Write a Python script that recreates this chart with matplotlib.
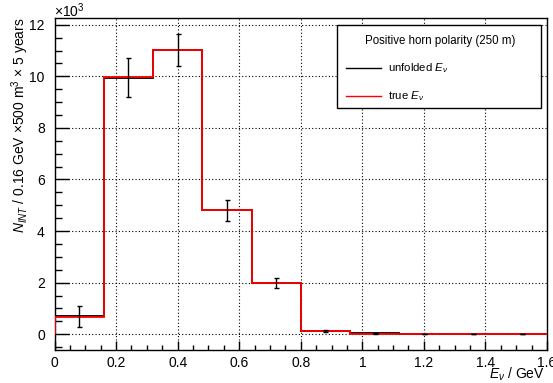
import numpy as np
import matplotlib
matplotlib.use("Agg")
import matplotlib.pyplot as plt
from matplotlib.ticker import MultipleLocator, FuncFormatter
from matplotlib.patches import Rectangle
from matplotlib.lines import Line2D

plt.rcParams['font.family'] = ['Liberation Sans', 'DejaVu Sans']
plt.rcParams['mathtext.fontset'] = 'custom'
plt.rcParams['mathtext.it'] = 'Liberation Sans:italic'
plt.rcParams['mathtext.rm'] = 'Liberation Sans'

# Data (units of 10^3)
bin_edges = [0.0, 0.16, 0.32, 0.48, 0.64, 0.80, 0.96, 1.12, 1.28, 1.44, 1.60]
true_vals = [0.68, 9.97, 11.02, 4.81, 2.00, 0.12, 0.01, 0.01, 0.005, 0.003]
unfolded_vals = [0.70, 9.95, 11.02, 4.80, 2.00, 0.12, 0.03, 0.01, 0.005, 0.003]
unfolded_err = [0.40, 0.75, 0.62, 0.39, 0.19, 0.05, 0.025, 0.015, 0.01, 0.005]
legend_title = "Positive horn polarity (250 m)"
legend_labels = ["unfolded $E_{\\nu}$", "true $E_{\\nu}$"]

W, H = 553, 383
fig = plt.figure(figsize=(W / 100, H / 100), dpi=100)
L, R, T, B = 54.5, 547, 18, 350
ax = fig.add_axes([L / W, 1 - B / H, (R - L) / W, (B - T) / H])

edges = np.array(bin_edges)
centers = 0.5 * (edges[:-1] + edges[1:])

ax.stairs(unfolded_vals, edges, color='black', lw=1.3, zorder=3)
ax.stairs(true_vals, edges, color='#ff0000', lw=1.3, zorder=4)
ax.errorbar(centers, unfolded_vals, yerr=unfolded_err, fmt='none', ecolor='black',
            elinewidth=1.0, capsize=1.8, capthick=1.0, zorder=5)

ax.set_xlim(0, 1.6)
ax.set_ylim(-0.61, 12.26)
ax.xaxis.set_major_locator(MultipleLocator(0.2))
ax.xaxis.set_minor_locator(MultipleLocator(0.05))
ax.yaxis.set_major_locator(MultipleLocator(2))
ax.yaxis.set_minor_locator(MultipleLocator(0.5))
ax.xaxis.set_major_formatter(FuncFormatter(lambda v, p: "%g" % round(v, 2)))
ax.yaxis.set_major_formatter(FuncFormatter(lambda v, p: "%g" % round(v, 2)))
ax.tick_params(axis='both', which='both', direction='in', labelsize=10, color='black')
ax.tick_params(axis='y', which='major', length=10, width=1.0, pad=7)
ax.tick_params(axis='y', which='minor', length=5, width=1.0)
ax.tick_params(axis='x', which='major', length=6.5, width=1.0, pad=4)
ax.tick_params(axis='x', which='minor', length=3.5, width=1.0)
for s in ax.spines.values():
    s.set_linewidth(1.0)
ax.grid(True, which='major', linestyle=(0, (1, 2)), color='black', lw=0.8)
ax.set_axisbelow(True)

# ROOT-style labels
fig.text(L / W, 1 - 11 / H, r"$\times$10$^{3}$", fontsize=10, ha='left', va='center')
fig.text(20 / W, 1 - 18 / H,
         r"$N_{INT}$ / 0.16 GeV $\times$500 m$^{3}$ $\times$ 5 years",
         rotation=90, fontsize=10, ha='center', va='top')
fig.text(545 / W, 1 - 374 / H, r"$E_{\nu}$ / GeV", fontsize=10, ha='right', va='center')

# Legend box (drawn in pixel coordinates of figure)
def fx(px):
    return px / W

def fy(py):
    return 1 - py / H

fig.patches.append(Rectangle((fx(337), fy(108)), fx(541) - fx(337), fy(25) - fy(108),
                             transform=fig.transFigure, facecolor='white',
                             edgecolor='black', lw=1.0, zorder=10))
fig.text(fx(440), fy(41), legend_title, fontsize=8.3, ha='center', va='center', zorder=11)
fig.lines.append(Line2D([fx(346), fx(381)], [fy(68), fy(68)], transform=fig.transFigure,
                        color='black', lw=1.0, zorder=11))
fig.lines.append(Line2D([fx(346), fx(381)], [fy(96), fy(96)], transform=fig.transFigure,
                        color='#ff0000', lw=1.0, zorder=11))
fig.text(fx(388), fy(68), legend_labels[0], fontsize=8.2, ha='left', va='center', zorder=11)
fig.text(fx(388), fy(96), legend_labels[1], fontsize=8.2, ha='left', va='center', zorder=11)

fig.savefig("out.png", dpi=100)
